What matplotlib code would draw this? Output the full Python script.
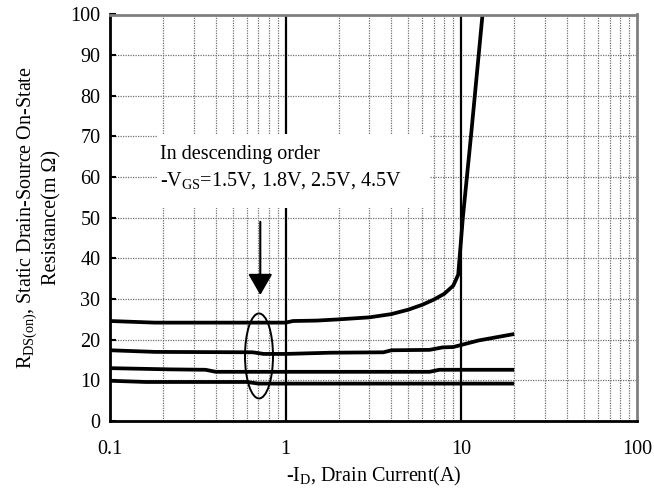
import numpy as np
import matplotlib
matplotlib.use("Agg")
import matplotlib.pyplot as plt
from matplotlib.patches import Ellipse, Rectangle
from matplotlib.ticker import LogLocator, FixedLocator, NullFormatter

plt.rcParams['font.family'] = ['Liberation Serif', 'DejaVu Serif']
plt.rcParams['mathtext.fontset'] = 'custom'
plt.rcParams['mathtext.rm'] = 'Liberation Serif'
plt.rcParams['mathtext.it'] = 'Liberation Serif:italic'

# ---- data ----
id_15 = [0.1, 0.18, 0.5, 1.0, 1.1, 1.5, 2.0, 3.0, 4.0, 5.0, 6.0, 7.0, 8.0, 9.0, 9.6, 10.2, 11.4, 13.2]
r_15 = [24.6, 24.2, 24.2, 24.2, 24.6, 24.7, 25.0, 25.5, 26.3, 27.4, 28.6, 29.9, 31.3, 33.3, 36.0, 50.0, 71.0, 100.0]

id_18 = [0.1, 0.18, 0.65, 0.75, 1.0, 1.8, 3.6, 4.0, 6.6, 7.8, 9.0, 12.5, 20.0]
r_18 = [17.4, 17.0, 16.9, 16.5, 16.5, 16.8, 16.9, 17.4, 17.5, 18.1, 18.2, 19.8, 21.4]

id_25 = [0.1, 0.22, 0.35, 0.40, 1.0, 6.6, 7.5, 20.0]
r_25 = [13.0, 12.7, 12.6, 12.1, 12.1, 12.1, 12.6, 12.6]

id_45 = [0.1, 0.16, 0.6, 0.7, 20.0]
r_45 = [9.9, 9.6, 9.6, 9.2, 9.2]

x_ticks = [0.1, 1, 10, 100]
x_tick_labels = ['0.1', '1', '10', '100']
y_ticks = list(range(0, 101, 10))

# ---- figure ----
fig = plt.figure(figsize=(6.54, 4.95), dpi=100)
L, R, B, T = 110 / 654, 637 / 654, 1 - 421 / 495, 1 - 14.5 / 495
ax = fig.add_axes([L, B, R - L, T - B])

ax.set_xscale('log')
ax.set_xlim(0.1, 100)
ax.set_ylim(0, 100)

# grid
grid_kw = dict(color='#707070', lw=0.9, ls=(0, (1, 1)), zorder=1)
for yv in y_ticks[1:-1]:
    ax.axhline(yv, **grid_kw)
for dec in [0.1, 1, 10]:
    for m in range(2, 10):
        ax.axvline(dec * m, **grid_kw)
for xv in [1, 10]:
    ax.axvline(xv, color='black', lw=1.6, zorder=2)

# text box (white, covers grid)
fx0, fx1 = 0.184, 6.6
ax.add_patch(Rectangle((fx0, 52.5), fx1 - fx0, 18.0, facecolor='white',
                       edgecolor='none', zorder=3))
ax.text(0.192, 64.5, 'In descending order', fontsize=14.5, va='baseline',
        ha='left', zorder=4)
ax.text(0.192, 57.8, '-V$_{\\rm GS}$=1.5V, 1.8V, 2.5V, 4.5V', fontsize=14.5,
        va='baseline', ha='left', zorder=4)

# curves
for xs, ys in [(id_15, r_15), (id_18, r_18), (id_25, r_25), (id_45, r_45)]:
    ax.plot(xs, ys, color='black', lw=2.7, solid_joinstyle='round',
            solid_capstyle='butt', zorder=5, clip_on=True)

# ellipse and arrow
ex, ey = 0.705, 16.0
exa = (np.log10(ex) + 1) / 3.0
eya = ey / 100.0
axw = (R - L) * 654
axh = (T - B) * 495
ax.add_patch(Ellipse((exa, eya), 28 / axw, 85 / axh, transform=ax.transAxes,
                     facecolor='none', edgecolor='black', lw=1.4, zorder=6))
ax.annotate('', xy=(0.717, 31.0), xytext=(0.717, 49.0),
            arrowprops=dict(arrowstyle='-|>,head_length=1.3,head_width=0.75',
                            mutation_scale=10, color='black', lw=1.5,
                            shrinkA=0, shrinkB=0), zorder=6)

# spines
for s in ['left', 'bottom']:
    ax.spines[s].set_color('black')
    ax.spines[s].set_linewidth(2.0)
for s in ['top', 'right']:
    ax.spines[s].set_color('#808080')
    ax.spines[s].set_linewidth(2.0)
for s in ax.spines.values():
    s.set_zorder(7)

# ticks
ax.xaxis.set_major_locator(FixedLocator(x_ticks))
ax.set_xticklabels(x_tick_labels)
ax.xaxis.set_minor_locator(LogLocator(base=10, subs=np.arange(2, 10)))
ax.xaxis.set_minor_formatter(NullFormatter())
ax.tick_params(axis='x', which='both', length=0, pad=14, labelsize=14.5)
ax.set_yticks(y_ticks)
ax.tick_params(axis='y', which='major', direction='in', length=4, width=1.5,
               pad=7, labelsize=14.5, right=False)

ax.set_xlabel('-I$_{\\rm D}$, Drain Current(A)', fontsize=14.5, labelpad=4)
ax.set_ylabel('R$_{\\rm DS(on)}$, Static Drain-Source On-State\nResistance(m Ω)',
              fontsize=14.5, labelpad=6, linespacing=1.25)

fig.savefig('out.png', dpi=100)
